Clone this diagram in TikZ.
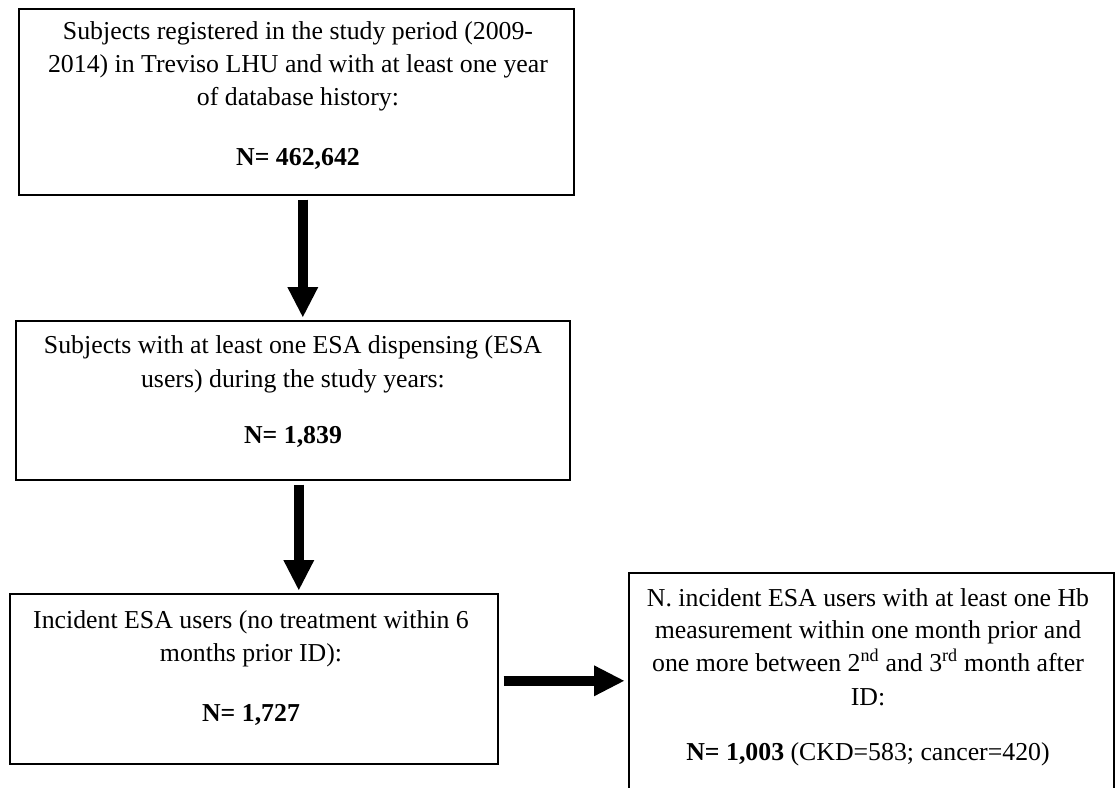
\documentclass[tikz,border=0pt]{standalone}
\usepackage{fontspec}
\setmainfont{Liberation Serif}
\usetikzlibrary{arrows.meta,calc}
\begin{document}
\begin{tikzpicture}[x=1pt,y=-1pt,
  box/.style={draw, line width=1.6pt, rectangle, inner sep=0pt, anchor=north west},
  txt/.style={font=\fontsize{25.8}{33}\selectfont, inner sep=0pt, anchor=base},
  bigarrow/.style={line width=10pt, -{Triangle[width=31pt,length=30pt,line width=0pt]}}]
\useasboundingbox (0,0) rectangle (1118,787);
\clip (0,0) rectangle (1118,787);
\fill[white] (0,0) rectangle (1118,787);
% boxes
\node[box, minimum width=555pt, minimum height=186pt] (b1) at (18,8) {};
\node[box, minimum width=554pt, minimum height=159pt] (b2) at (15,320) {};
\node[box, minimum width=488pt, minimum height=170pt] (b3) at (9,593) {};
\node[box, minimum width=485pt, minimum height=240pt] (b4) at (628,572) {};
% box 1 text
\node[txt] (t1a) at (298,39) {Subjects registered in the study period (2009-};
\node[txt] (t1b) at (298,72) {2014) in Treviso LHU and with at least one year};
\node[txt] (t1c) at (298,105) {of database history:};
\node[txt] (t1n) at (298,165) {\bfseries N= 462,642};
% box 2 text
\node[txt] (t2a) at (293,353) {Subjects with at least one ESA dispensing (ESA};
\node[txt] (t2b) at (293,387) {users) during the study years:};
\node[txt] (t2n) at (293,443) {\bfseries N= 1,839};
% box 3 text
\node[txt] (t3a) at (251,628) {Incident ESA users (no treatment within 6};
\node[txt] (t3b) at (251,661) {months prior ID):};
\node[txt] (t3n) at (251,721) {\bfseries N= 1,727};
% box 4 text
\node[txt] (t4a) at (868,606) {N. incident ESA users with at least one Hb};
\node[txt] (t4b) at (868,638) {measurement within one month prior and};
\node[txt] (t4c) at (868,671) {one more between 2\textsuperscript{nd} and 3\textsuperscript{rd} month after};
\node[txt] (t4d) at (868,705) {ID:};
\node[txt] (t4n) at (868,760) {\textbf{N= 1,003} (CKD=583; cancer=420)};
% arrows
\draw[bigarrow, shorten <=4pt, shorten >=3pt] ([xshift=6.5pt]b1.south) -- ([xshift=6.5pt]b1.south |- b2.north);
\draw[bigarrow, shorten <=4pt, shorten >=3pt] ([xshift=6pt]b2.south) -- ([xshift=6pt]b2.south |- b3.north);
\draw[bigarrow, shorten <=5pt, shorten >=4pt] ([yshift=-2pt]b3.east) -- ([yshift=-2pt]b3.east -| b4.west);
\end{tikzpicture}
\end{document}
